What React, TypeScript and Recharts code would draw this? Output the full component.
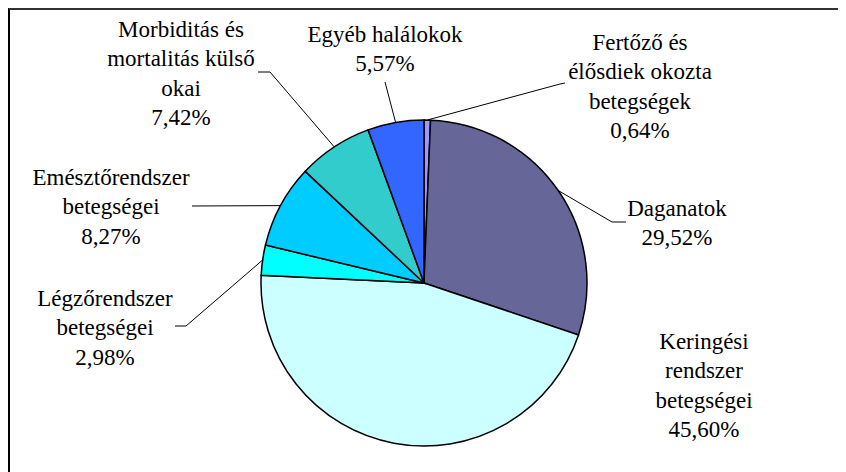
import { PieChart, Pie, Cell } from 'recharts'

// causes of death, share in percent (clockwise from 12 o'clock)
const categories = [
  'Fertőző és\nélősdiek okozta\nbetegségek',
  'Daganatok',
  'Keringési\nrendszer\nbetegségei',
  'Légzőrendszer\nbetegségei',
  'Emésztőrendszer\nbetegségei',
  'Morbiditás és\nmortalitás külső\nokai',
  'Egyéb halálokok',
]
const shares = [0.64, 29.52, 45.6, 2.98, 8.27, 7.42, 5.57]
const colors = ['#9999FF', '#666699', '#CCFFFF', '#00FFFF', '#00CCFF', '#33CCCC', '#3366FF']

// label placement relative to pie centre: text centre of first line, leader elbow + end
const labelLayout = [
  { tx: 216, ty: -241, elbow: [136, -199], end: [141, -200] },
  { tx: 253, ty: -75, elbow: [188, -61], end: [202, -61] },
  { tx: 280, ty: 58, elbow: null, end: null },
  { tx: -319, ty: 15, elbow: [-238, 43], end: [-249, 43] },
  { tx: -313, ty: -106, elbow: [-232, -77], end: [-232, -77] },
  { tx: -243, ty: -254, elbow: [-154, -211], end: [-166, -211] },
  { tx: -39, ty: -249, elbow: [-39, -201], end: [-39, -201] },
]

const data = categories.map((name, i) => ({ name, value: shares[i] }))

const RAD = Math.PI / 180
const LINE_H = 29.5
const FONT = 'Liberation Serif'

function fmt(v: number) {
  return v.toFixed(2).replace('.', ',') + '%'
}

const renderLabel = (props: any) => {
  const { cx, cy, midAngle, outerRadius, index, value } = props
  const lay = labelLayout[index]
  const ex = cx + outerRadius * Math.cos(-midAngle * RAD)
  const ey = cy + outerRadius * Math.sin(-midAngle * RAD)
  const lines = [...categories[index].split('\n'), fmt(value)]
  const x0 = cx + lay.tx
  const y0 = cy + lay.ty
  return (
    <g key={`lbl-${index}`}>
      {lay.elbow && lay.end && (
        <polyline
          points={`${ex},${ey} ${cx + lay.elbow[0]},${cy + lay.elbow[1]} ${cx + lay.end[0]},${cy + lay.end[1]}`}
          fill="none"
          stroke="#000"
          strokeWidth={1}
        />
      )}
      {lines.map((l, j) => (
        <text
          key={j}
          x={x0}
          y={y0 + j * LINE_H + 7.5}
          textAnchor="middle"
          fill="#000"
          fontFamily={FONT}
          fontSize={23}
        >
          {l}
        </text>
      ))}
    </g>
  )
}

export default function App() {
  return (
    <div
      style={{
        width: 836,
        height: 462,
        borderTop: '2px solid #333',
        borderLeft: '2px solid #000',
        background: '#fff',
      }}
    >
      <PieChart width={836} height={462} margin={{ top: 0, right: 0, bottom: 0, left: 0 }}>
        <Pie
          data={data}
          dataKey="value"
          nameKey="name"
          cx={414}
          cy={273}
          outerRadius={163}
          startAngle={90}
          endAngle={-270}
          label={renderLabel}
          labelLine={false}
          isAnimationActive={false}
        >
          {data.map((d, i) => (
            <Cell key={d.name} fill={colors[i]} stroke="#000" strokeWidth={1.5} />
          ))}
        </Pie>
      </PieChart>
    </div>
  )
}
